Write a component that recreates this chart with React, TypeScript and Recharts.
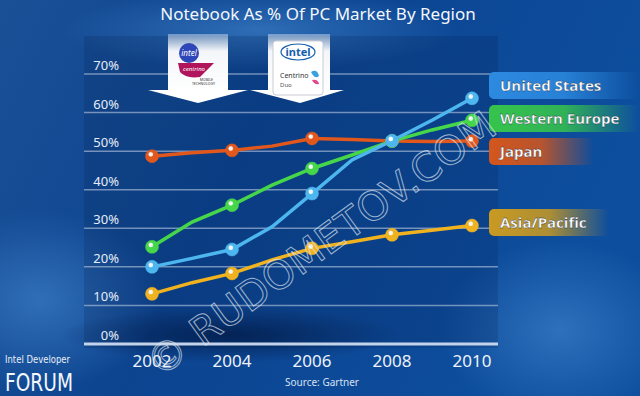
import { LineChart, Line, XAxis, YAxis, CartesianGrid, ReferenceLine } from "recharts";

const YEARS = ["2002", "2003", "2004", "2005", "2006", "2007", "2008", "2009", "2010"];
const UNITED_STATES = [20, 22.2, 24.5, 30.4, 39, 47.7, 52.7, 58, 63.7];
const WESTERN_EUROPE = [25.2, 31.6, 36, 41.2, 45.5, 49, 52.6, 55.5, 58];
const JAPAN = [48.7, 49.6, 50.2, 51.3, 53.3, 53, 52.6, 52.5, 52.6];
const ASIA_PACIFIC = [13, 15.9, 18.3, 21.8, 24.8, 26.5, 28.3, 29.5, 30.7];
const Y_TICKS = [0, 10, 20, 30, 40, 50, 60, 70];

const SERIES = [
  { key: "us", name: "United States", values: UNITED_STATES, color: "#4db6ee", box: "#2c8ae0", labelTop: 72, labelW: 150 },
  { key: "we", name: "Western Europe", values: WESTERN_EUROPE, color: "#46d64a", box: "#36c44c", labelTop: 105, labelW: 150 },
  { key: "jp", name: "Japan", values: JAPAN, color: "#e2581c", box: "#d4561c", labelTop: 138, labelW: 105 },
  { key: "ap", name: "Asia/Pacific", values: ASIA_PACIFIC, color: "#f0b21e", box: "#c99a22", labelTop: 209, labelW: 120 },
];

const data = YEARS.map((year, i) => ({
  year,
  us: UNITED_STATES[i],
  we: WESTERN_EUROPE[i],
  jp: JAPAN[i],
  ap: ASIA_PACIFIC[i],
}));

const FONT = "'Noto Sans', 'Open Sans', sans-serif";
const NARROW = "'DejaVu Sans Condensed', 'Noto Sans', sans-serif";

const YTick = ({ y, payload }: any) => (
  <text x={119} y={y - 4} textAnchor="end" fill="#e6edf7" fontSize={13} fontFamily={FONT}>
    {payload.value}%
  </text>
);

const XTick = ({ x, payload }: any) => (
  <text x={x} y={367} textAnchor="middle" fill="#eef3fa" fontSize={17} fontFamily={FONT}>
    {payload.value}
  </text>
);

const ball = (key: string, color: string) => (props: any) => {
  const { cx, cy, index } = props;
  if (index % 2 === 1 || cx == null) return <g key={`${key}-${index}`} />;
  return (
    <g key={`${key}-${index}`}>
      <circle cx={cx} cy={cy} r={6.5} fill={`url(#ball-${key})`} stroke={color} strokeWidth={0.5} />
      <circle cx={cx - 1.2} cy={cy - 1.8} r={2.2} fill="#ffffff" opacity={0.85} />
    </g>
  );
};

export default function App() {
  return (
    <div style={{ position: "absolute", left: 0, top: 0, width: 640, height: 396, overflow: "hidden" }}>
      {/* background */}
      <svg width={640} height={396} style={{ position: "absolute", left: 0, top: 0 }}>
        <defs>
          <linearGradient id="bg" x1="0" y1="0" x2="1" y2="0.3">
            <stop offset="0" stopColor="#1a5096" />
            <stop offset="0.45" stopColor="#0c4490" />
            <stop offset="1" stopColor="#0d4e9e" />
          </linearGradient>
          <radialGradient id="glow" cx="0.5" cy="0.5" r="0.5">
            <stop offset="0" stopColor="#3d7fc8" stopOpacity={0.7} />
            <stop offset="1" stopColor="#3d7fc8" stopOpacity={0} />
          </radialGradient>
          <radialGradient id="shade" cx="0.5" cy="0.5" r="0.5">
            <stop offset="0" stopColor="#021a45" stopOpacity={0.75} />
            <stop offset="1" stopColor="#021a45" stopOpacity={0} />
          </radialGradient>
          {SERIES.map((s) => (
            <radialGradient key={s.key} id={`ball-${s.key}`} cx="0.4" cy="0.35" r="0.65">
              <stop offset="0" stopColor="#ffffff" stopOpacity={0.6} />
              <stop offset="0.35" stopColor={s.color} />
              <stop offset="1" stopColor={s.color} />
            </radialGradient>
          ))}
          {SERIES.map((s) => (
            <linearGradient key={s.key} id={`lab-${s.key}`} x1="0" y1="0" x2="1" y2="0">
              <stop offset="0" stopColor={s.box} />
              <stop offset="0.5" stopColor={s.box} stopOpacity={0.85} />
              <stop offset="1" stopColor={s.box} stopOpacity={0} />
            </linearGradient>
          ))}
          <linearGradient id="card" x1="0" y1="0" x2="0" y2="1">
            <stop offset="0" stopColor="#ffffff" stopOpacity={0.35} />
            <stop offset="0.3" stopColor="#ffffff" stopOpacity={0.95} />
            <stop offset="1" stopColor="#ffffff" />
          </linearGradient>
        </defs>
        <rect x={0} y={0} width={640} height={396} fill="url(#bg)" />
        <ellipse cx={40} cy={300} rx={120} ry={90} fill="url(#glow)" />
        <ellipse cx={260} cy={30} rx={200} ry={40} fill="url(#glow)" />
        <ellipse cx={560} cy={330} rx={120} ry={90} fill="url(#glow)" />
        <ellipse cx={230} cy={335} rx={170} ry={28} fill="url(#shade)" />
        <rect x={84} y={36} width={414} height={312} fill="#031c4a" opacity={0.18} />
      </svg>

      <div style={{ position: "absolute", left: 0, top: 0 }}>
        <LineChart width={640} height={396} data={data} margin={{ top: 74, right: 142, bottom: 0, left: 0 }}>
          <CartesianGrid vertical={false} stroke="#b9c9e0" strokeOpacity={0.6} strokeWidth={1.5} />
          <XAxis
            dataKey="year"
            type="category"
            interval={1}
            padding={{ left: 68, right: 26 }}
            axisLine={false}
            tickLine={false}
            height={52}
            tick={<XTick />}
          />
          <YAxis
            domain={[0, 70]}
            ticks={Y_TICKS}
            width={84}
            axisLine={false}
            tickLine={false}
            tick={<YTick />}
          />
          <ReferenceLine y={0} stroke="#c2d3ea" strokeWidth={3} />
          {[...SERIES].reverse().map((s) => (
            <Line
              key={s.key}
              dataKey={s.key}
              name={s.name}
              type="linear"
              stroke={s.color}
              strokeWidth={3.5}
              dot={ball(s.key, s.color)}
              activeDot={false}
              isAnimationActive={false}
            />
          ))}
        </LineChart>
      </div>

      {/* decorations, titles and labels */}
      <svg width={640} height={396} style={{ position: "absolute", left: 0, top: 0, pointerEvents: "none" }}>
        <text x={318} y={20} textAnchor="middle" fill="#f4f7fc" fontSize={17} fontFamily={FONT}>
          Notebook As % Of PC Market By Region
        </text>

        {/* Centrino mobile technology arrow */}
        <rect x={168} y={34} width={60} height={57} fill="url(#card)" />
        <polygon points="148,90 248,90 198,103" fill="#ffffff" />
        <circle cx={189} cy={53} r={10} fill="#2f46b8" />
        <text x={189} y={56} textAnchor="middle" fill="#ffffff" fontSize={8} fontStyle="italic" fontFamily={FONT}>intel</text>
        <path d="M178,63 L214,63 L200,77 Q186,79 180,72 Z" fill="#b0145a" />
        <text x={194} y={71} textAnchor="middle" fill="#ffffff" fontSize={6} fontStyle="italic" fontFamily={FONT}>centrino</text>
        <text x={213} y={81} textAnchor="end" fill="#333" fontSize={3.5} fontFamily={FONT}>MOBILE</text>
        <text x={215} y={85} textAnchor="end" fill="#333" fontSize={3.5} fontFamily={FONT}>TECHNOLOGY</text>

        {/* Centrino Duo arrow */}
        <rect x={268} y={34} width={62} height={57} fill="url(#card)" />
        <polygon points="250,90 344,90 300,103" fill="#ffffff" />
        <rect x={273} y={41} width={50} height={54} rx={3} fill="#ffffff" stroke="#c8ccd4" strokeWidth={1} />
        <ellipse cx={298} cy={52} rx={17} ry={8} fill="none" stroke="#1460b0" strokeWidth={1.2} />
        <text x={298} y={56} textAnchor="middle" fill="#1460b0" fontSize={11} fontWeight="bold" fontFamily={FONT}>intel</text>
        <text x={280} y={78} fill="#333" fontSize={7} fontFamily={FONT}>Centrino</text>
        <text x={280} y={87} fill="#555" fontSize={6} fontFamily={FONT}>Duo</text>
        <path d="M311,72 q6,-4 8,4 q-4,4 -8,-4 z" fill="#3aa0e0" />
        <path d="M312,80 q6,-1 7,4 q-5,1 -7,-4 z" fill="#e04890" />

        {/* series labels */}
        {SERIES.map((s) => (
          <g key={s.key}>
            <rect x={489} y={s.labelTop} width={s.labelW} height={27} rx={5} fill={`url(#lab-${s.key})`} />
            <text x={500} y={s.labelTop + 19} fill="#ffffff" fontSize={15} fontWeight="bold" fontFamily="'Open Sans', sans-serif" stroke="#1a2a40" strokeWidth={0.3}>
              {s.name}
            </text>
          </g>
        ))}

        {/* watermark */}
        <text
          x={321}
          y={258}
          textAnchor="middle"
          transform="rotate(-36 321 244)"
          fill="none"
          stroke="#dfe6f0"
          strokeOpacity={0.7}
          strokeWidth={1}
          fontSize={40}
          fontFamily="'DejaVu Sans', sans-serif"
          textLength={420}
          lengthAdjust="spacing"
        >
          © RUDOMETOV.COM
        </text>

        {/* footer */}
        <text x={5} y={363} fill="#e8eef8" fontSize={11} fontFamily={NARROW} textLength={65} lengthAdjust="spacingAndGlyphs">
          Intel Developer
        </text>
        <text x={5} y={391} fill="#f4f7fc" fontSize={25} fontFamily={NARROW} textLength={68} lengthAdjust="spacingAndGlyphs">
          FORUM
        </text>
        <text x={322} y={386} textAnchor="middle" fill="#d8e2f0" fontSize={10} fontFamily={FONT}>
          Source: Gartner
        </text>
      </svg>
    </div>
  );
}
